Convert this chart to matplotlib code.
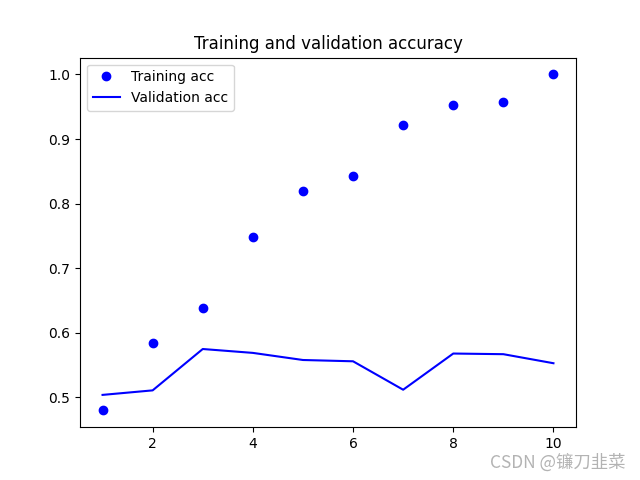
import matplotlib.pyplot as plt

epochs = [1, 2, 3, 4, 5, 6, 7, 8, 9, 10]
acc = [0.480, 0.585, 0.638, 0.749, 0.819, 0.842, 0.921, 0.952, 0.957, 1.0]
val_acc = [0.504, 0.511, 0.575, 0.569, 0.558, 0.556, 0.512, 0.568, 0.567, 0.553]

fig = plt.figure(figsize=(6.4, 4.8), dpi=100)
plt.plot(epochs, acc, 'bo', label='Training acc')
plt.plot(epochs, val_acc, 'b', label='Validation acc')
plt.title('Training and validation accuracy')
plt.legend()

# watermark
fig.text(0.977, 0.037, 'CSDN @镰刀韭菜', ha='right', va='center', fontsize=12.5,
         color='#b3b3b3', family=['Noto Sans CJK SC', 'DejaVu Sans'])

fig.savefig('out.png')
